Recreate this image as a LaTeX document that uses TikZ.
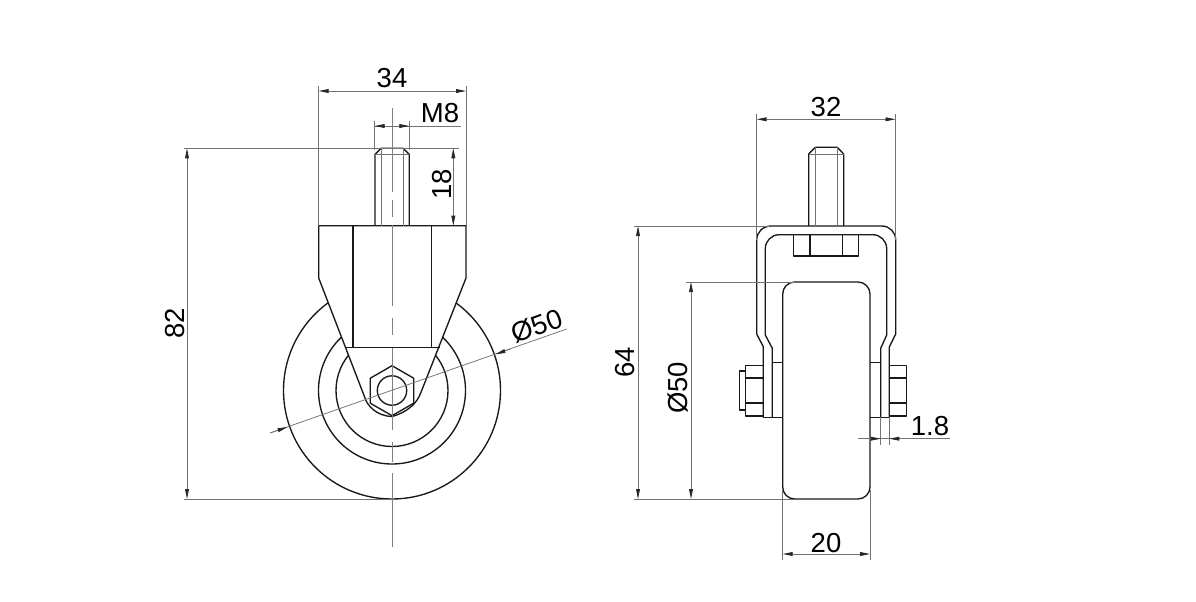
\documentclass[tikz,border=0pt]{standalone}
\usepackage{fontspec}
\setmainfont{Liberation Sans}
\usetikzlibrary{arrows.meta}
\tikzset{
  obj/.style={draw=black!90,line width=1.35pt,line join=round},
  thin1/.style={draw=black!55,line width=0.75pt},
  cen/.style={draw=black!50,line width=0.75pt},
  dim/.style={draw=black!55,line width=0.75pt,{Triangle[length=10pt,width=3.8pt,fill=black!85,color=black!85]}-{Triangle[length=10pt,width=3.8pt,fill=black!85,color=black!85]}},
  tipstart/.style={draw=black!55,line width=0.75pt,{Triangle[length=10pt,width=3.8pt,fill=black!85,color=black!85]}-},
  lab/.style={font=\fontsize{27.5}{27.5}\selectfont,text=black,inner sep=0pt},
}
\begin{document}
\begin{tikzpicture}[x=1pt,y=-1pt]
\useasboundingbox (0,0) rectangle (1196,602);
\fill[white] (0,0) rectangle (1196,602);

% ---------- left view
\coordinate (c) at (392,390.5);
\draw[obj] (c) circle[radius=108.5];
\draw[obj] (c) circle[radius=73.5];
\draw[obj] (c) circle[radius=56];
% fork silhouette
\path[fill=white,obj] (318.7,225.7) -- (466,225.7) -- (466,278) -- (420.7,393)
  .. controls (417,403) and (408,412) .. (392,416.5)
  .. controls (376,416) and (367,405) .. (365,398) -- (318.7,278) -- cycle;
\draw[obj] (353,225.7) -- (353,347.7) (431.3,225.7) -- (431.3,347.7);
\draw[obj] (345,347.7) -- (440,347.7);
% hexagon and bore
\draw[obj] (392,365.7) -- (413.7,378.2) -- (413.7,403.2) -- (392,415.7) -- (370.3,403.2) -- (370.3,378.2) -- cycle;
\draw[obj] (392,390.5) circle[radius=14.7];
% stud
\draw[obj] (375,225.7) -- (375,154.3) -- (381,148.3) -- (403,148.3) -- (409.3,154.3) -- (409.3,225.7);
\draw[thin1] (375,154.3) -- (409.3,154.3) (381,148.3) -- (381,225.7) (403,148.3) -- (403,225.7);
% centre line
\draw[cen] (392,108) -- (392,192) (392,200) -- (392,217) (392,225) -- (392,306)
  (392,318) -- (392,335) (392,348) -- (392,430) (392,442) -- (392,462) (392,473) -- (392,547);
% dimensions, left view
\draw[thin1] (318.7,86) -- (318.7,225.7) (466,86) -- (466,225.7);
\draw[dim] (318.7,91) -- (466,91);
\node[lab] (t34) at (392,78.5) {34};
\draw[thin1] (374.7,120.7) -- (374.7,150) (409.3,120.7) -- (409.3,150);
\draw[thin1] (374.7,126) -- (461,126);
\draw[tipstart] (374.7,126) -- (392,126);
\draw[tipstart] (409.3,126) -- (392,126);
\node[lab] (tm8) at (440,113.5) {M8};
\draw[thin1] (184,148.3) -- (459,148.3);
\draw[dim] (453.3,148.3) -- (453.3,225.7);
\node[lab,rotate=90] (t18) at (442,184) {18};
\draw[thin1] (184,499) -- (392,499);
\draw[dim] (187,148.3) -- (187,499);
\node[lab,rotate=90] (t82) at (175,323) {82};
\draw[thin1] (270,433) -- (566.7,329);
\draw[tipstart] (287.5,427) -- (270,433);
\draw[tipstart] (495.5,354.3) -- (510,349.2);
\node[lab,rotate=20] (t50a) at (537,326) {Ø50};

% ---------- right view
\draw[obj,rounded corners=12pt] (782.7,499) -- (782.7,282) -- (870,282) -- (870,499) -- cycle;
% frame
\draw[obj] (763.3,417.3) -- (763.3,346.7) -- (756.7,334) -- (756.7,240)
  .. controls (756.7,232) and (763,226) .. (771,226) -- (881.7,226)
  .. controls (889.5,226) and (895.7,232) .. (895.7,240) -- (895.7,334) -- (889.3,347) -- (889.3,417.3);
\draw[obj] (772.3,417.3) -- (772.3,348.3) -- (765.3,335) -- (765.3,248.7)
  .. controls (765.3,241) and (771.5,234.7) .. (779.3,234.7) -- (872.7,234.7)
  .. controls (880.5,234.7) and (886.7,241) .. (886.7,248.7) -- (886.7,335) -- (880.7,348.3) -- (880.7,417.3);
\draw[obj] (763.3,417.3) -- (772.3,417.3) (880.7,417.3) -- (889.3,417.3);
% nut inside
\draw[obj] (793.7,234.7) -- (793.7,256) -- (858.7,256) -- (858.7,234.7) (810,234.7) -- (810,256) (842.3,234.7) -- (842.3,256);
% stud
\draw[obj] (808.7,226) -- (808.7,154) -- (815.3,147.3) -- (837.3,147.3) -- (843.7,154) -- (843.7,226);
\draw[thin1] (808.7,154) -- (843.7,154) (815.3,147.3) -- (815.3,226) (837.3,147.3) -- (837.3,226);
% washers
\draw[obj] (782.7,362.7) -- (772.3,362.7) (772.3,417.3) -- (782.7,417.3);
\draw[obj] (870,362.7) -- (880.7,362.7) (880.7,417.3) -- (870,417.3);
% left nut
\draw[obj] (763.3,365.7) -- (745.7,365.7) -- (745.7,416) -- (763.3,416) (745.7,378) -- (763.3,378) (745.7,403) -- (763.3,403);
\draw[obj] (745.7,371) -- (739.3,371) -- (739.3,410) -- (745.7,410);
% right nut
\draw[obj] (889.3,365.7) -- (906.7,365.7) -- (906.7,416) -- (889.3,416) (889.3,378) -- (906.7,378) (889.3,403) -- (906.7,403);
% dimensions, right view
\draw[thin1] (756.7,114) -- (756.7,240) (895.5,114) -- (895.5,240);
\draw[dim] (756.7,119.3) -- (895.5,119.3);
\node[lab] (t32) at (826,107.2) {32};
\draw[thin1] (634,226) -- (770,226);
\draw[dim] (638,226) -- (638,499);
\node[lab,rotate=90] (t64) at (625,362) {64};
\draw[thin1] (686,282) -- (795,282);
\draw[thin1] (634,499) -- (795,499);
\draw[dim] (691,282) -- (691,499);
\node[lab,rotate=90] (t50b) at (678,388) {Ø50};
\draw[thin1] (782.7,490) -- (782.7,560) (870,490) -- (870,560);
\draw[dim] (782.7,554) -- (870,554);
\node[lab] (t20) at (826,543) {20};
\draw[thin1] (880.7,417) -- (880.7,445) (889.3,417) -- (889.3,445);
\draw[thin1] (858.3,438.7) -- (950,438.7);
\draw[tipstart] (880.7,438.7) -- (862,438.7);
\draw[tipstart] (889.3,438.7) -- (905,438.7);
\node[lab] (t18b) at (930,426.2) {1.8};
\end{tikzpicture}
\end{document}
